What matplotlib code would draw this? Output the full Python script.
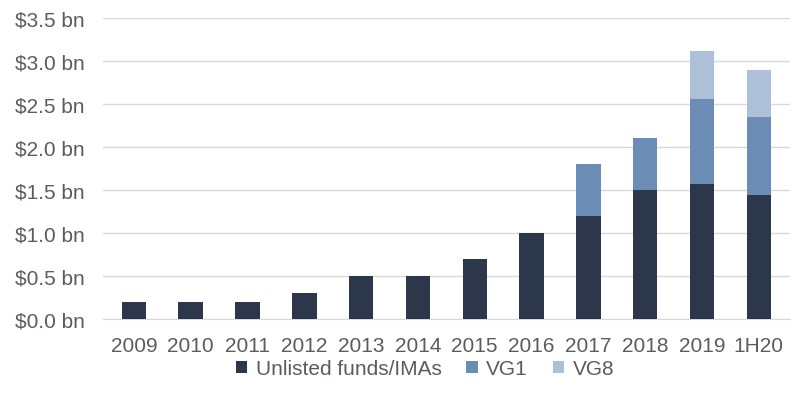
import matplotlib
matplotlib.use("Agg")
import matplotlib.pyplot as plt
import numpy as np

# data (US$ bn)
years = ['2009', '2010', '2011', '2012', '2013', '2014', '2015', '2016',
         '2017', '2018', '2019', '1H20']
unlisted = [0.2, 0.2, 0.2, 0.3, 0.5, 0.5, 0.7, 1.0, 1.2, 1.5, 1.57, 1.44]
vg1 = [0, 0, 0, 0, 0, 0, 0, 0, 0.6, 0.6, 0.99, 0.91]
vg8 = [0, 0, 0, 0, 0, 0, 0, 0, 0, 0, 0.56, 0.55]

colors = ['#2c374b', '#6b8cb4', '#adc0d8']
text_col = '#5f5a5c'

plt.rcParams['font.family'] = ['Liberation Sans', 'DejaVu Sans']

fig = plt.figure(figsize=(8.02, 4.02), dpi=100)
ax = fig.add_axes([0.128, 0.204, 0.857, 0.749])

x = np.arange(len(years))
w = 0.43
u = np.array(unlisted)
v1 = np.array(vg1)
v8 = np.array(vg8)
ax.bar(x, u, w, color=colors[0], label='Unlisted funds/IMAs', zorder=3)
ax.bar(x, v1, w, bottom=u, color=colors[1], label='VG1', zorder=3)
ax.bar(x, v8, w, bottom=u + v1, color=colors[2], label='VG8', zorder=3)

ax.set_ylim(0, 3.5)
ax.set_xlim(-0.55, len(years) - 0.45)
ax.set_yticks(np.arange(0, 3.51, 0.5))
ax.set_yticklabels(['$%.1f bn' % t for t in np.arange(0, 3.51, 0.5)])
ax.set_xticks(x)
ax.set_xticklabels(years)
ax.tick_params(axis='both', length=0, labelsize=15, colors=text_col)
ax.tick_params(axis='y', pad=13)
ax.tick_params(axis='x', pad=12)
ax.grid(axis='y', color='#d9d9d9', linewidth=1, zorder=0)
for s in ['top', 'right', 'left']:
    ax.spines[s].set_visible(False)
ax.spines['bottom'].set_color('#d9d9d9')

leg = fig.legend(loc='lower center', bbox_to_anchor=(0.53, 0.01), ncol=3,
                 frameon=False, fontsize=15, handlelength=0.55, handleheight=0.55,
                 handletextpad=0.4, columnspacing=1.2)
for t in leg.get_texts():
    t.set_color(text_col)

fig.savefig('out.png', dpi=100)
